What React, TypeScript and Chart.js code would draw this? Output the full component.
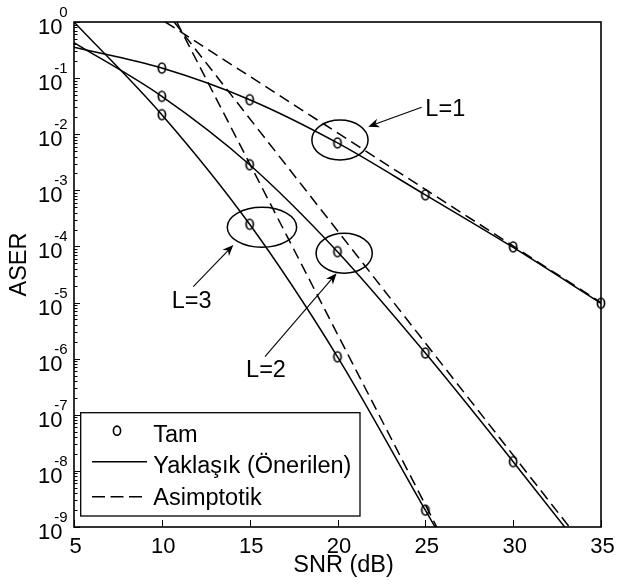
import { useEffect, useRef } from "react";
import { Chart, registerables } from "chart.js";

Chart.register(...registerables);

// ---- Data ----
const tamSnrL1 = [10, 15, 20, 25, 30, 35];
const tamL1 = [0.151, 0.0412, 0.007, 8.3e-4, 9.8e-5, 9.7e-6];
const tamSnrL2 = [10, 15, 20, 25, 30];
const tamL2 = [0.0473, 2.86e-3, 8.07e-5, 1.26e-6, 1.46e-8];
const tamSnrL3 = [10, 15, 20, 25];
const tamL3 = [0.0223, 2.48e-4, 1.08e-6, 2.0e-9];

const approxSnr = [5, 10, 15, 20, 25, 30, 35];
const approxL1 = [0.354, 0.151, 0.0412, 0.007, 8.3e-4, 9.6e-5, 9.7e-6];
const approxL2 = [0.43, 0.0473, 2.86e-3, 8.07e-5, 1.26e-6, 1.46e-8, 1.5e-10];
const approxL3 = [1.0, 0.0223, 2.48e-4, 1.08e-6, 2.0e-9, 4e-12, 1e-14];

const asymSnrL1 = [10.2, 35];
const asymL1 = [1, 1.0e-5];
const asymSnrL2 = [10.7, 33.2];
const asymL2 = [1, 1e-9];
const asymSnrL3 = [10.85, 25.65];
const asymL3 = [1, 1e-9];

const xTicks = [5, 10, 15, 20, 25, 30, 35];
const yTickExponents = [0, -1, -2, -3, -4, -5, -6, -7, -8, -9];

const legendLabels = ["Tam", "Yaklaşık (Önerilen)", "Asimptotik"];
const xTitle = "SNR (dB)";
const yTitle = "ASER";

// annotation groups in data units (x in dB, y as log10 value)
const groupLabels = ["L=1", "L=2", "L=3"];
const ellipseCx = [20.14, 20.38, 15.7];
const ellipseCyLog = [-2.103, -4.122, -3.659];
const ellipseHalfDb = [1.6, 1.6, 1.975];
const ellipseHalfDec = [0.356, 0.356, 0.356];
const arrowTailX = [24.79, 15.87, 11.79];
const arrowTailLog = [-1.52, -5.965, -4.717];
const arrowHeadX = [21.75, 19.95, 14.07];
const arrowHeadLog = [-1.866, -4.479, -3.974];
const labelX = [25.0, 15.93, 11.7];
const labelLog = [-1.568, -6.22, -4.985];
const labelAlign: CanvasTextAlign[] = ["left", "center", "center"];

const FONT = '"Liberation Sans", Arial, Helvetica, sans-serif';

function pts(xs: number[], ys: number[]) {
  return xs.map((x, i) => ({ x, y: ys[i] }));
}

function makeMarker(): HTMLCanvasElement {
  const c = document.createElement("canvas");
  c.width = 12;
  c.height = 14;
  const g = c.getContext("2d")!;
  g.strokeStyle = "#000";
  g.lineWidth = 1.7;
  g.beginPath();
  g.ellipse(6, 7, 3.6, 5, 0, 0, Math.PI * 2);
  g.stroke();
  return c;
}

function drawArrow(ctx: CanvasRenderingContext2D, x0: number, y0: number, x1: number, y1: number) {
  const dx = x1 - x0;
  const dy = y1 - y0;
  const len = Math.hypot(dx, dy);
  const ux = dx / len;
  const uy = dy / len;
  const L = 11;
  const W = 4.5;
  ctx.beginPath();
  ctx.moveTo(x0, y0);
  ctx.lineTo(x1 - ux * L * 0.7, y1 - uy * L * 0.7);
  ctx.stroke();
  const bx = x1 - ux * L;
  const by = y1 - uy * L;
  ctx.beginPath();
  ctx.moveTo(x1, y1);
  ctx.lineTo(bx - uy * W, by + ux * W);
  ctx.lineTo(x1 - ux * L * 0.7, y1 - uy * L * 0.7);
  ctx.lineTo(bx + uy * W, by - ux * W);
  ctx.closePath();
  ctx.fill();
}

const overlay = {
  id: "overlay",
  afterDraw(chart: any) {
    const { ctx, chartArea: a } = chart;
    const xs = chart.scales.x;
    const ys = chart.scales.y;
    const px = (v: number) => xs.getPixelForValue(v);
    const py = (v: number) => ys.getPixelForValue(v);
    ctx.save();
    ctx.strokeStyle = "#000";
    ctx.fillStyle = "#000";

    // ticks
    ctx.lineWidth = 1;
    ctx.beginPath();
    for (const t of xTicks) {
      const p = Math.round(px(t)) + 0.5;
      ctx.moveTo(p, a.bottom);
      ctx.lineTo(p, a.bottom - 7);
    }
    for (const e of yTickExponents) {
      const p = Math.round(py(Math.pow(10, e))) + 0.5;
      ctx.moveTo(a.left, p);
      ctx.lineTo(a.left + 6, p);
      if (e > -9) {
        for (let m = 2; m <= 9; m++) {
          const q = Math.round(py(m * Math.pow(10, e - 1))) + 0.5;
          ctx.moveTo(a.left, q);
          ctx.lineTo(a.left + 3.5, q);
        }
      }
    }
    ctx.stroke();

    // box
    ctx.lineWidth = 1.6;
    ctx.strokeRect(a.left, a.top, a.right - a.left, a.bottom - a.top);

    // x tick labels
    ctx.font = `22px ${FONT}`;
    ctx.textAlign = "center";
    ctx.textBaseline = "alphabetic";
    for (const t of xTicks) {
      ctx.fillText(String(t), px(t) + 1.5, a.bottom + 26);
    }
    // y tick labels 10^e
    for (const e of yTickExponents) {
      const p = py(Math.pow(10, e));
      ctx.font = `22px ${FONT}`;
      ctx.textAlign = "right";
      ctx.fillText("10", a.left - 11.5, p + 12);
      ctx.font = `15px ${FONT}`;
      ctx.fillText(String(e), a.left - 6.5, p - 5);
    }

    // axis titles
    ctx.font = `23.5px ${FONT}`;
    ctx.textAlign = "center";
    ctx.fillText(xTitle, (a.left + a.right) / 2 + 6, a.bottom + 45);
    ctx.save();
    ctx.translate(26, (a.top + a.bottom) / 2 - 10);
    ctx.rotate(-Math.PI / 2);
    ctx.fillText(yTitle, 0, 0);
    ctx.restore();

    // annotations
    ctx.lineWidth = 1.5;
    for (let i = 0; i < groupLabels.length; i++) {
      const cx = px(ellipseCx[i]);
      const cy = py(Math.pow(10, ellipseCyLog[i]));
      const rx = Math.abs(px(ellipseCx[i] + ellipseHalfDb[i]) - cx);
      const ry = Math.abs(py(Math.pow(10, ellipseCyLog[i] + ellipseHalfDec[i])) - cy);
      ctx.beginPath();
      ctx.ellipse(cx, cy, rx, ry, 0, 0, Math.PI * 2);
      ctx.stroke();
    }
    ctx.lineWidth = 1.1;
    for (let i = 0; i < groupLabels.length; i++) {
      drawArrow(
        ctx,
        px(arrowTailX[i]),
        py(Math.pow(10, arrowTailLog[i])),
        px(arrowHeadX[i]),
        py(Math.pow(10, arrowHeadLog[i]))
      );
    }
    ctx.font = `23.5px ${FONT}`;
    ctx.textBaseline = "middle";
    for (let i = 0; i < groupLabels.length; i++) {
      ctx.textAlign = labelAlign[i];
      ctx.fillText(groupLabels[i], px(labelX[i]), py(Math.pow(10, labelLog[i])));
    }

    // legend
    const lx0 = a.left + 6.7;
    const lx1 = a.left + 286;
    const ly0 = a.bottom - 114.3;
    const ly1 = a.bottom - 11;
    ctx.fillStyle = "#fff";
    ctx.fillRect(lx0, ly0, lx1 - lx0, ly1 - ly0);
    ctx.fillStyle = "#000";
    ctx.lineWidth = 1.3;
    ctx.strokeRect(lx0, ly0, lx1 - lx0, ly1 - ly0);

    const rowY = [ly0 + 20, ly0 + 49, ly0 + 84];
    const baseY = [ly0 + 29, ly0 + 60.6, ly0 + 92.3];
    // marker
    ctx.lineWidth = 1.6;
    ctx.beginPath();
    ctx.ellipse(a.left + 43, rowY[0] - 2, 3.6, 4.6, 0, 0, Math.PI * 2);
    ctx.stroke();
    // solid
    ctx.lineWidth = 1.5;
    ctx.beginPath();
    ctx.moveTo(a.left + 18, rowY[1]);
    ctx.lineTo(a.left + 73, rowY[1]);
    ctx.stroke();
    // dashed
    ctx.setLineDash([13, 5.5]);
    ctx.beginPath();
    ctx.moveTo(a.left + 18, rowY[2]);
    ctx.lineTo(a.left + 73, rowY[2]);
    ctx.stroke();
    ctx.setLineDash([]);
    ctx.font = `23.5px ${FONT}`;
    ctx.textAlign = "left";
    ctx.textBaseline = "alphabetic";
    for (let i = 0; i < legendLabels.length; i++) {
      ctx.fillText(legendLabels[i], a.left + 79.3, baseY[i]);
    }
    ctx.restore();
  },
};

export default function App() {
  const ref = useRef<HTMLCanvasElement | null>(null);
  useEffect(() => {
    if (!ref.current) return;
    const marker = makeMarker();
    const solid = { borderColor: "#000", borderWidth: 1.5, pointRadius: 0, fill: false, cubicInterpolationMode: "monotone" as const };
    const dashed = { borderColor: "#000", borderWidth: 1.5, pointRadius: 0, fill: false, borderDash: [11, 6] };
    const mk = { showLine: false, pointStyle: marker, pointRadius: 5, borderColor: "#000", backgroundColor: "transparent", clip: false as any };
    const chart = new Chart(ref.current, {
      type: "line",
      data: {
        datasets: [
          { ...solid, data: pts(approxSnr, approxL1) },
          { ...solid, data: pts(approxSnr, approxL2) },
          { ...solid, data: pts(approxSnr, approxL3) },
          { ...dashed, data: pts(asymSnrL1, asymL1) },
          { ...dashed, data: pts(asymSnrL2, asymL2) },
          { ...dashed, data: pts(asymSnrL3, asymL3) },
          { ...mk, data: pts(tamSnrL1, tamL1) },
          { ...mk, data: pts(tamSnrL2, tamL2) },
          { ...mk, data: pts(tamSnrL3, tamL3) },
        ] as any,
      },
      options: {
        animation: false,
        responsive: true,
        maintainAspectRatio: false,
        layout: { padding: { top: 22, right: 16, left: 0, bottom: 0 } },
        plugins: { legend: { display: false }, tooltip: { enabled: false } },
        events: [],
        scales: {
          x: {
            type: "linear",
            min: 5,
            max: 35,
            grid: { display: false },
            border: { display: false },
            ticks: { display: false },
            afterFit: (s: any) => {
              s.height = 59;
            },
          },
          y: {
            type: "logarithmic",
            min: 1e-9,
            max: 1,
            grid: { display: false },
            border: { display: false },
            ticks: { display: false },
            afterFit: (s: any) => {
              s.width = 74;
            },
          },
        },
      },
      plugins: [overlay],
    });
    return () => chart.destroy();
  }, []);
  return (
    <div style={{ position: "absolute", left: 0, top: 0, width: 617, height: 586, background: "#fff" }}>
      <canvas ref={ref} />
    </div>
  );
}
